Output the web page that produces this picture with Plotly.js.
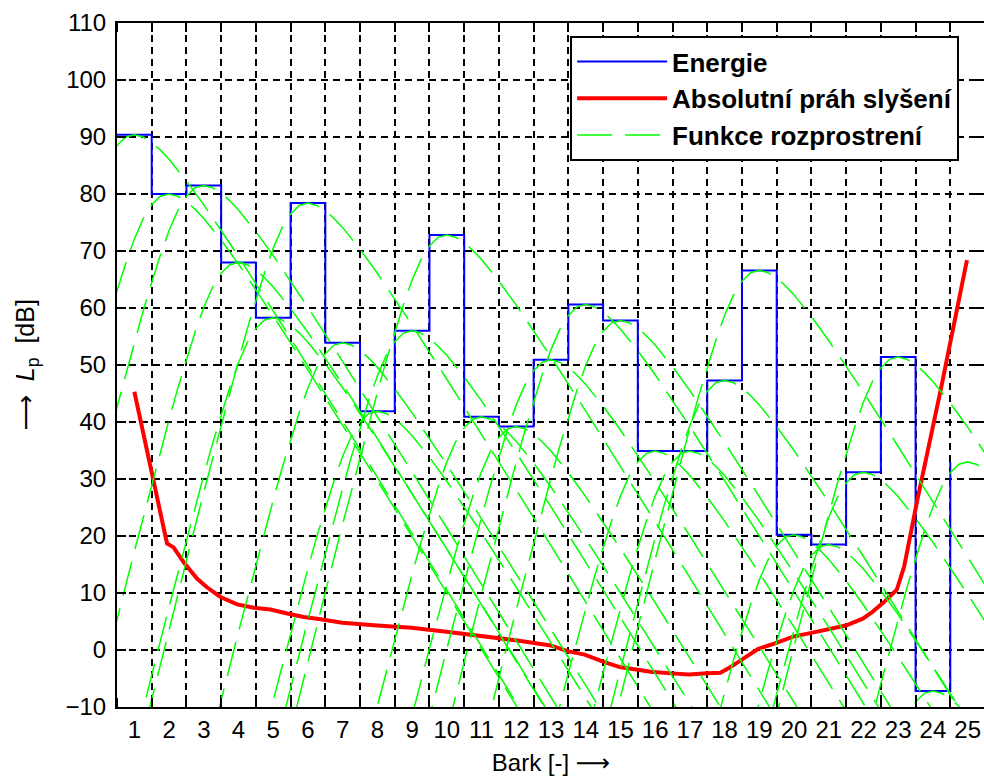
<!DOCTYPE html>
<html><head><meta charset="utf-8">
<script src="https://cdn.plot.ly/plotly-3.0.1.min.js"></script>
<style>html,body{margin:0;padding:0;overflow:hidden;background:#fff}#chart{width:986px;height:783px}</style>
</head><body><div id="chart"></div>
<script>
// Bark band centres (tick labels) and the band left edges used by the stairs
const barkTicks = [1,2,3,4,5,6,7,8,9,10,11,12,13,14,15,16,17,18,19,20,21,22,23,24,25];
const stairEdges = [0.5,1.5,2.5,3.5,4.5,5.5,6.5,7.5,8.5,9.5,10.5,11.5,12.5,13.5,14.5,15.5,16.5,17.5,18.5,19.5,20.5,21.5,22.5,23.5,24.5];
// Energy per band [dB]
const energyDb = [90.4,80.0,81.5,68.0,58.3,78.4,53.9,41.9,56.0,72.8,40.9,39.2,50.9,60.6,57.8,34.9,34.9,47.3,66.6,20.2,18.5,31.2,51.4,-7.2,33.0];
// Absolute threshold of hearing
const thresholdBark = [1.0,1.94,2.13,2.42,2.81,3.09,3.48,3.96,4.44,4.92,5.4,5.88,6.36,6.99,7.99,8.98,9.99,10.97,11.98,12.99,13.47,13.97,14.52,14.98,15.87,16.47,16.97,17.5,17.88,18.17,18.56,18.97,19.47,20.0,20.5,20.96,21.49,21.98,22.26,22.59,22.96,23.17,23.36,23.55,24.23,24.98];
const thresholdDb = [45.3,18.7,18.0,15.4,12.5,11.0,9.3,8.0,7.4,7.1,6.4,5.8,5.4,4.8,4.3,3.9,3.2,2.5,1.7,0.8,-0.2,-0.8,-2.1,-3.0,-3.8,-4.1,-4.3,-4.1,-4.0,-3.0,-1.5,0.2,1.2,2.4,3.0,3.6,4.3,5.5,6.7,8.4,10.6,14.6,20.4,26.3,45.8,68.4];
// Spreading function shape (relative to band level), offset in Bark
const spreadOffsetBark = [-5,-4.5,-4,-3.5,-3,-2.5,-2,-1.75,-1.5,-1.25,-1,-0.75,-0.5,-0.25,0,0.25,0.5,0.75,1,1.5,2,2.5,3,4,5,6,7,8,9,10,11,12];
const spreadLevelDb = [-99.3,-87.0,-74.8,-62.7,-50.7,-38.9,-27.6,-22.1,-17.0,-12.2,-7.9,-4.4,-1.9,-0.4,0,-0.4,-1.3,-2.7,-4.3,-8.1,-12.3,-16.8,-21.4,-30.9,-40.5,-50.3,-60.1,-70.0,-79.9,-89.8,-99.7,-109.6];

const spreadX = [], spreadY = [];
for (let i = 0; i < barkTicks.length; i++) {
  for (let k = 0; k < spreadOffsetBark.length; k++) {
    spreadX.push(barkTicks[i] + spreadOffsetBark[k]);
    spreadY.push(energyDb[i] + spreadLevelDb[k]);
  }
  spreadX.push(null); spreadY.push(null);
}

const FONT = 'Liberation Sans, Arial, Helvetica, sans-serif';
const ARROW = '<span style="font-family:DejaVu Sans">⟶</span>';

const traces = [
  {x: stairEdges, y: energyDb, type: 'scatter', mode: 'lines', name: 'Energie',
   line: {color: '#0000ff', width: 2, shape: 'hv'}},
  {x: thresholdBark, y: thresholdDb, type: 'scatter', mode: 'lines', name: 'Absolutní práh slyšení',
   line: {color: '#ff0000', width: 4}},
  {x: spreadX, y: spreadY, type: 'scatter', mode: 'lines', name: 'Funkce rozprostrení',
   connectgaps: false, line: {color: '#00ff00', width: 1.5, dash: '35px,13px'}}
];

const layout = {
  width: 986, height: 783,
  margin: {l: 117, r: 1, t: 23, b: 76},
  paper_bgcolor: '#fff', plot_bgcolor: '#fff',
  font: {family: FONT, color: '#000', size: 24},
  showlegend: true,
  legend: {x: 0.522, y: 0.981, xanchor: 'left', yanchor: 'top',
           bgcolor: '#fff', bordercolor: '#000', borderwidth: 2,
           font: {family: FONT, size: 26, color: '#000', weight: 'bold'},
           itemwidth: 90, tracegroupgap: 0},
  xaxis: {
    range: [0.5, 25.5], tickvals: barkTicks, ticktext: barkTicks.map(String),
    ticks: '', showgrid: false, zeroline: false,
    showline: true, linecolor: '#000', linewidth: 2, mirror: 'allticks',
    tickfont: {family: FONT, size: 24, color: '#000'},
    minor: {tick0: 0.5, dtick: 1, ticks: 'inside', ticklen: 9, tickwidth: 2, tickcolor: '#000',
            showgrid: true, gridcolor: '#000', gridwidth: 2, griddash: '7px,5px'},
    title: {text: 'Bark [-] ' + ARROW, font: {family: FONT, size: 24, color: '#000'}, standoff: 12}
  },
  yaxis: {
    range: [-10, 110], tick0: -10, dtick: 10,
    ticks: 'inside', ticklen: 9, tickwidth: 2, tickcolor: '#000',
    showgrid: true, gridcolor: '#000', gridwidth: 2, griddash: '7px,5px',
    zeroline: false, showline: true, linecolor: '#000', linewidth: 2, mirror: 'allticks',
    tickfont: {family: FONT, size: 24, color: '#000'},
    ticklabelstandoff: 4,
    title: {text: ARROW + '  <i>L</i><sub>p</sub>  [dB]', font: {family: FONT, size: 25, color: '#000'}, standoff: 24}
  }
};

Plotly.newPlot('chart', traces, layout, {displayModeBar: false, staticPlot: true});
</script>
</body></html>
